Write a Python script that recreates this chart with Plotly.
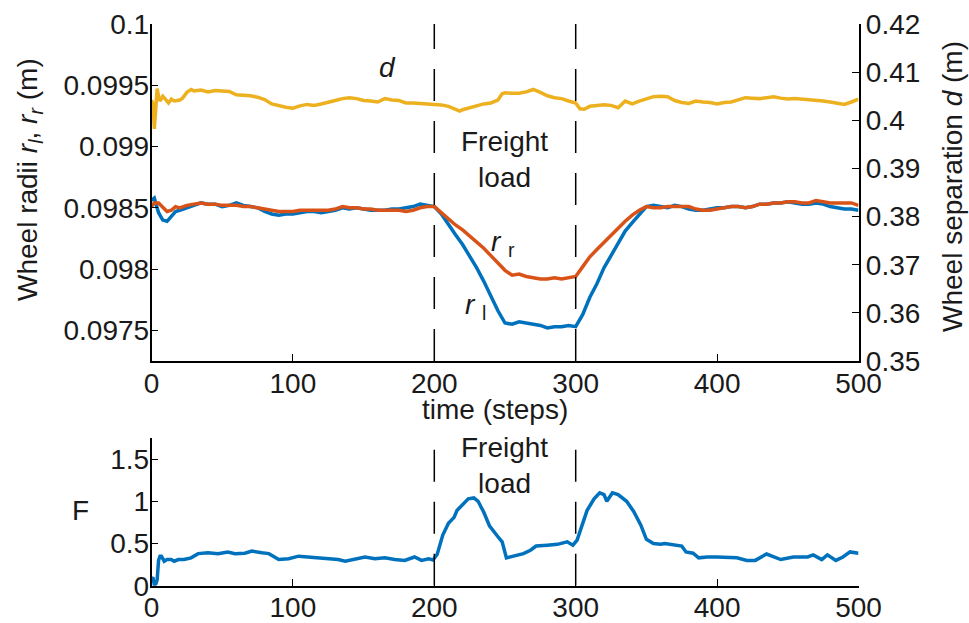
import plotly.graph_objects as go

# ---- wheel radii (left axis, metres) ----
t_r = [0, 2, 5, 8, 11, 14, 17, 20, 25, 30, 35, 40, 45, 50, 55, 60, 65, 70, 75, 80,
       85, 90, 95, 100, 105, 110, 115, 120, 125, 130, 135, 140, 145, 150, 155, 160,
       165, 170, 175, 180, 185, 190, 195, 200, 205, 210, 215, 220, 225, 230, 235,
       240, 245, 250, 255, 260, 265, 270, 275, 280, 285, 290, 295, 300, 305, 310,
       315, 320, 325, 330, 335, 340, 345, 350, 355, 360, 365, 370, 375, 380, 385,
       390, 395, 400, 405, 410, 415, 420, 425, 430, 435, 440, 445, 450, 455, 460,
       465, 470, 475, 480, 485, 490, 495, 500]

r_l = [0.09856, 0.09858, 0.09846, 0.09840, 0.09839, 0.09843, 0.09847, 0.09848, 0.09850, 0.09852,
       0.09854, 0.09853, 0.09853, 0.09851, 0.09852, 0.09854, 0.09852, 0.09851, 0.09850, 0.09847,
       0.09845, 0.09844, 0.09845, 0.09845, 0.09846, 0.09847, 0.09847, 0.09846, 0.09847, 0.09848,
       0.09850, 0.09849, 0.09850, 0.09849, 0.09848, 0.09848, 0.09848, 0.09849, 0.09849, 0.09850,
       0.09851, 0.09853, 0.09852, 0.09851, 0.09845, 0.09836, 0.09828, 0.09820, 0.09811, 0.09801,
       0.09790, 0.09778, 0.09766, 0.09756, 0.09755, 0.09757, 0.09756, 0.09755, 0.09754, 0.09752,
       0.09753, 0.09753, 0.09754, 0.09753, 0.09763, 0.09777, 0.09788, 0.09801, 0.09811, 0.09821,
       0.09831, 0.09838, 0.09845, 0.09851, 0.09852, 0.09851, 0.09850, 0.09852, 0.09851, 0.09849,
       0.09848, 0.09848, 0.09849, 0.09850, 0.09850, 0.09851, 0.09851, 0.09850, 0.09851, 0.09853,
       0.09853, 0.09854, 0.09854, 0.09855, 0.09854, 0.09853, 0.09853, 0.09854, 0.09853, 0.09851,
       0.09850, 0.09849, 0.09849, 0.09848]

r_r = [0.09851, 0.09854, 0.09854, 0.09850, 0.09847, 0.09848, 0.09851, 0.09850, 0.09852, 0.09853,
       0.09854, 0.09853, 0.09853, 0.09852, 0.09852, 0.09852, 0.09851, 0.09851, 0.09850, 0.09849,
       0.09848, 0.09847, 0.09847, 0.09847, 0.09848, 0.09848, 0.09848, 0.09848, 0.09848, 0.09849,
       0.09851, 0.09850, 0.09850, 0.09849, 0.09849, 0.09848, 0.09848, 0.09848, 0.09848, 0.09847,
       0.09848, 0.09850, 0.09851, 0.09851, 0.09846, 0.09841, 0.09836, 0.09832, 0.09827, 0.09822,
       0.09817, 0.09811, 0.09805, 0.09799, 0.09795, 0.09796, 0.09794, 0.09793, 0.09792, 0.09792,
       0.09793, 0.09792, 0.09793, 0.09794, 0.09802, 0.09810, 0.09816, 0.09822, 0.09828, 0.09834,
       0.09839, 0.09844, 0.09848, 0.09851, 0.09850, 0.09850, 0.09851, 0.09851, 0.09851, 0.09851,
       0.09849, 0.09848, 0.09848, 0.09849, 0.09850, 0.09851, 0.09851, 0.09850, 0.09851, 0.09853,
       0.09853, 0.09854, 0.09854, 0.09855, 0.09855, 0.09854, 0.09854, 0.09856, 0.09855, 0.09854,
       0.09854, 0.09854, 0.09854, 0.09852]

# ---- wheel separation (right axis, metres) ----
t_d = [0, 1, 2, 3, 4, 5, 6, 8, 10, 12, 14, 16, 18, 20, 22, 25, 28, 30, 35, 40, 45, 50, 55,
       60, 65, 70, 75, 80, 85, 90, 95, 100, 105, 110, 115, 120, 125, 130, 135, 140, 145,
       150, 155, 160, 165, 170, 175, 180, 185, 190, 195, 200, 205, 210, 215, 218, 220,
       225, 230, 235, 240, 245, 248, 250, 255, 260, 265, 270, 275, 280, 285, 290, 295,
       300, 303, 306, 310, 315, 320, 325, 330, 335, 340, 345, 350, 355, 360, 365, 370,
       375, 380, 385, 390, 395, 400, 405, 410, 415, 420, 425, 430, 435, 440, 445, 450,
       455, 460, 465, 470, 475, 480, 485, 490, 495, 500]

d = [0.4042, 0.4035, 0.3982, 0.4030, 0.4066, 0.4050, 0.4040, 0.4050, 0.4044, 0.4036, 0.4044,
     0.4040, 0.4041, 0.4042, 0.4046, 0.4058, 0.4064, 0.4061, 0.4063, 0.4059, 0.4062, 0.4061,
     0.4060, 0.4053, 0.4052, 0.4051, 0.4048, 0.4043, 0.4034, 0.4030, 0.4027, 0.4025, 0.4030,
     0.4033, 0.4031, 0.4034, 0.4037, 0.4041, 0.4045, 0.4047, 0.4045, 0.4041, 0.4040, 0.4038,
     0.4045, 0.4042, 0.4041, 0.4036, 0.4036, 0.4035, 0.4033, 0.4033, 0.4032, 0.4029, 0.4022,
     0.4019, 0.4022, 0.4026, 0.4029, 0.4034, 0.4036, 0.4042, 0.4055, 0.4057, 0.4056, 0.4056,
     0.4059, 0.4064, 0.4058, 0.4051, 0.4047, 0.4045, 0.4040, 0.4036, 0.4024, 0.4023, 0.4029,
     0.4030, 0.4032, 0.4031, 0.4026, 0.4040, 0.4034, 0.4040, 0.4045, 0.4049, 0.4050, 0.4049,
     0.4041, 0.4037, 0.4035, 0.4040, 0.4038, 0.4037, 0.4034, 0.4037, 0.4038, 0.4042, 0.4047,
     0.4046, 0.4045, 0.4047, 0.4049, 0.4046, 0.4044, 0.4045, 0.4044, 0.4042, 0.4042, 0.4040,
     0.4038, 0.4035, 0.4033, 0.4038, 0.4044]

# ---- force F (lower panel) ----
t_F = [0, 1, 2, 3, 4, 5, 6, 7, 9, 11, 14, 16, 19, 23, 28, 33, 40, 47, 54, 59, 66, 71, 78,
       83, 90, 97, 104, 111, 118, 125, 132, 137, 144, 151, 158, 165, 172, 179, 186, 191,
       196, 199, 202, 206, 210, 214, 216, 221, 224, 228, 231, 235, 239, 245, 248, 251,
       256, 263, 268, 272, 280, 287, 294, 298, 301, 304, 308, 313, 317, 320, 322, 326,
       330, 336, 341, 346, 350, 355, 360, 363, 369, 375, 378, 383, 387, 393, 400, 407,
       414, 421, 427, 435, 445, 454, 464, 468, 474, 478, 484, 489, 494, 500]

F = [0.08, 0.10, 0.01, 0.02, 0.07, 0.30, 0.35, 0.35, 0.29, 0.31, 0.31, 0.29, 0.31, 0.31,
     0.33, 0.38, 0.39, 0.38, 0.40, 0.38, 0.385, 0.41, 0.39, 0.38, 0.31, 0.32, 0.35, 0.34,
     0.34, 0.32, 0.31, 0.29, 0.31, 0.34, 0.32, 0.33, 0.31, 0.30, 0.34, 0.30, 0.32, 0.305,
     0.37, 0.60, 0.74, 0.81, 0.89, 0.98, 1.03, 1.04, 1.00, 0.87, 0.71, 0.58, 0.52, 0.33,
     0.35, 0.38, 0.42, 0.47, 0.48, 0.49, 0.52, 0.48, 0.54, 0.70, 0.89, 1.03, 1.10, 1.08,
     1.00, 1.10, 1.08, 1.00, 0.88, 0.72, 0.55, 0.50, 0.49, 0.50, 0.48, 0.47, 0.40, 0.385,
     0.33, 0.34, 0.34, 0.33, 0.33, 0.30, 0.30, 0.375, 0.31, 0.34, 0.34, 0.365, 0.31, 0.365,
     0.30, 0.34, 0.40, 0.385]

# ---- ticks and markers ----
x_ticks = [0, 100, 200, 300, 400, 500]
r_ticks = [0.0975, 0.098, 0.0985, 0.099, 0.0995, 0.1]
r_ticktext = ["0.0975", "0.098", "0.0985", "0.099", "0.0995", "0.1"]
d_ticks = [0.35, 0.36, 0.37, 0.38, 0.39, 0.40, 0.41, 0.42]
d_ticktext = ["0.35", "0.36", "0.37", "0.38", "0.39", "0.4", "0.41", "0.42"]
F_ticks = [0, 0.5, 1, 1.5]
F_ticktext = ["0", "0.5", "1", "1.5"]
load_steps = [200, 300]

BLUE, ORANGE, YELLOW = "#0072BD", "#D95319", "#EDB120"
W, H = 969, 623
FONT = "Liberation Sans, Arial, Helvetica, sans-serif"
TXT = "#1a1a1a"
FS = 28


def px(xp):
    return xp / W


def py(yp):
    return 1 - yp / H


fig = go.Figure()
fig.add_trace(go.Scatter(x=t_r, y=r_l, mode="lines", line=dict(color=BLUE, width=3.5),
                         xaxis="x", yaxis="y"))
fig.add_trace(go.Scatter(x=t_r, y=r_r, mode="lines", line=dict(color=ORANGE, width=3.5),
                         xaxis="x", yaxis="y"))
fig.add_trace(go.Scatter(x=t_d, y=d, mode="lines", line=dict(color=YELLOW, width=3.5),
                         xaxis="x", yaxis="y2"))
fig.add_trace(go.Scatter(x=t_F, y=F, mode="lines", line=dict(color=BLUE, width=3.5),
                         xaxis="x2", yaxis="y3"))

axis_common = dict(showgrid=False, zeroline=False, showline=True, linecolor="#000",
                   linewidth=1.5, ticks="inside", ticklen=7, tickwidth=1.3,
                   tickcolor="#000", automargin=False,
                   tickfont=dict(size=FS, color=TXT, family=FONT))

x_dom = [px(151.5), px(858.5)]
fig.update_layout(
    width=W, height=H, margin=dict(l=0, r=0, t=0, b=0, autoexpand=False),
    plot_bgcolor="white", paper_bgcolor="white", showlegend=False,
    font=dict(family=FONT, size=FS, color=TXT),
    xaxis=dict(domain=x_dom, anchor="y", range=[0, 500], tickvals=x_ticks,
               ticklabelstandoff=-3, **axis_common),
    yaxis=dict(domain=[py(361), py(24)], anchor="x", range=[0.09725, 0.1],
               tickvals=r_ticks, ticktext=r_ticktext, ticklabelstandoff=-5, **axis_common),
    yaxis2=dict(overlaying="y", side="right", anchor="x", range=[0.35, 0.42],
                tickvals=d_ticks, ticktext=d_ticktext, **axis_common),
    xaxis2=dict(domain=x_dom, anchor="y3", range=[0, 500], tickvals=x_ticks,
                ticklabelstandoff=-4, **axis_common),
    yaxis3=dict(domain=[py(585.7), py(438)], anchor="x2", range=[0, 1.75],
                tickvals=F_ticks, ticktext=F_ticktext, ticklabelstandoff=-5, **axis_common),
)

# dashed markers for the freight-load interval
for s in load_steps:
    fig.add_shape(type="line", xref="x", yref="y domain", x0=s, x1=s, y0=0, y1=1,
                  line=dict(color="#000", width=1.5, dash="32px,20px"))
    fig.add_shape(type="line", xref="x2", yref="y3", x0=s, x1=s, y0=0, y1=1.615,
                  line=dict(color="#000", width=1.5, dash="32px,20px"))


def label(text, x, y, size=FS, angle=0):
    fig.add_annotation(text=text, x=px(x), y=py(y), xref="paper", yref="paper",
                       showarrow=False, xanchor="center", yanchor="middle",
                       textangle=angle, font=dict(size=size, color=TXT, family=FONT))


label("Wheel radii <i>r</i><sub><i>l</i></sub>, <i>r</i><sub><i>r</i></sub> (m)", 29, 180, angle=-90)
label("Wheel separation <i>d</i> (m)", 952, 187, angle=-90)
label("time (steps)", 495, 409)
label("F", 80, 510)
label("Freight<br>load", 505, 159)
label("Freight<br>load", 505, 465)
label("<i>d</i>", 387, 68)
label("<i>r</i> <sub>r</sub>", 503, 243)
label("<i>r</i> <sub>l</sub>", 475, 306)

fig.write_html("out.html")
